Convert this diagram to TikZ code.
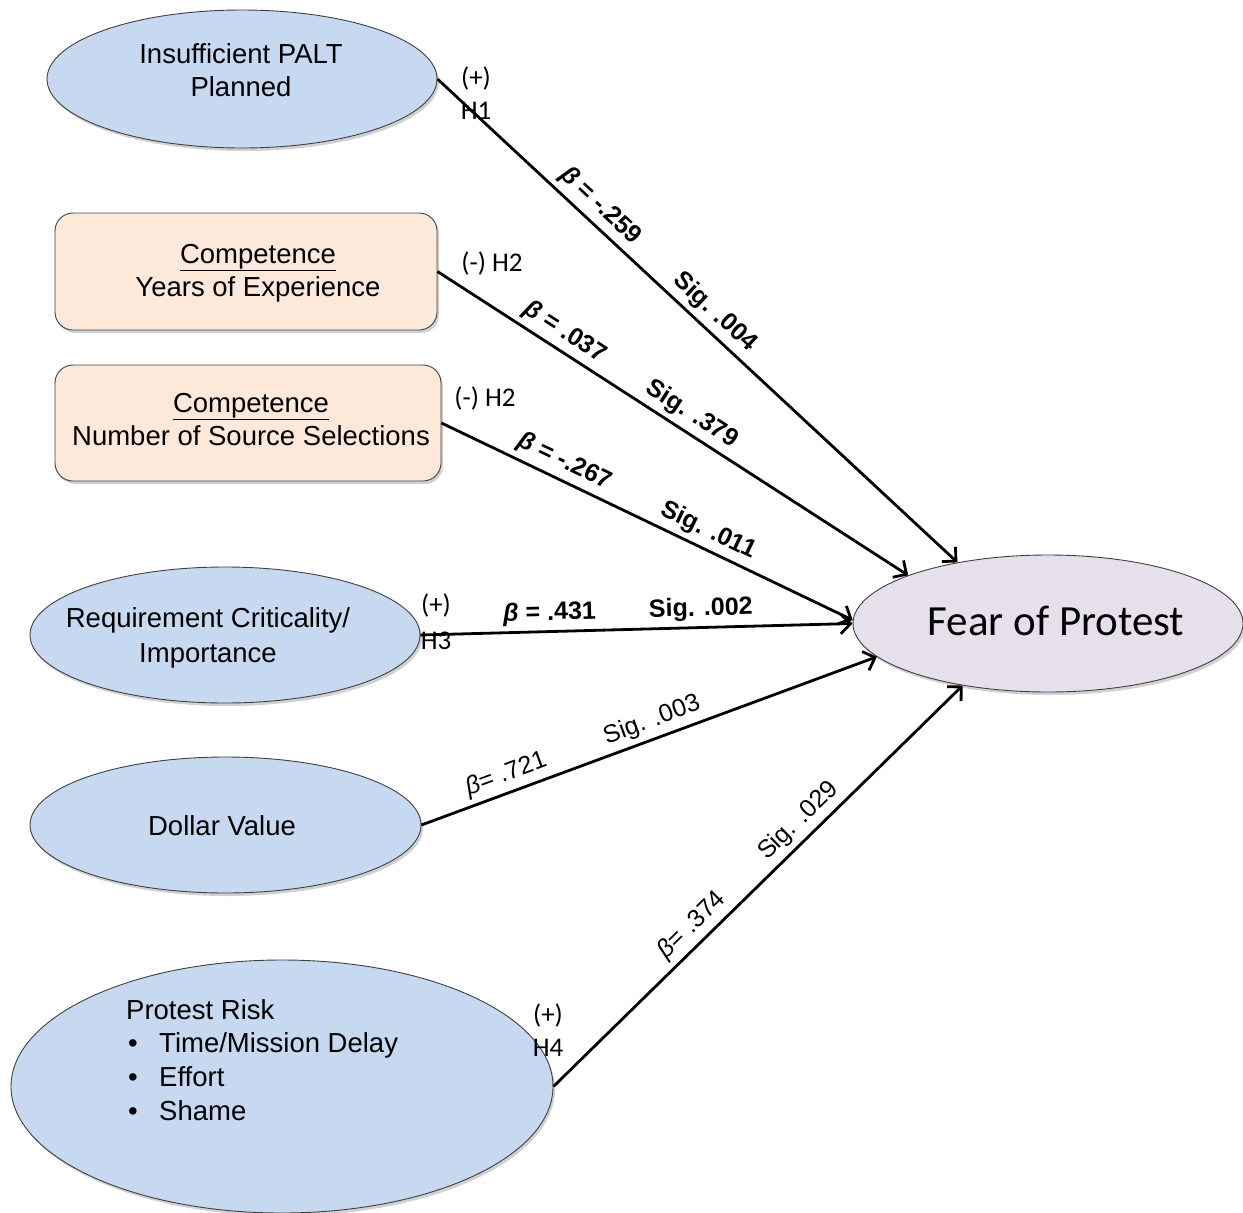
\documentclass[tikz,border=0pt]{standalone}
\usepackage{fontspec}
\setmainfont{Liberation Sans}
\newfontfamily\calib{Carlito}
\usetikzlibrary{shapes.geometric,arrows.meta,shadows,calc}
\definecolor{blu}{HTML}{C6D9F1}
\definecolor{pch}{HTML}{FDE9D9}
\definecolor{lav}{HTML}{E5E0EC}
\begin{document}
\begin{tikzpicture}[x=1pt,y=-1pt,
  shd/.style={drop shadow={shadow xshift=2pt,shadow yshift=-3pt,opacity=0.3,fill=black!60}},
  oval/.style={ellipse,draw=black!75,line width=0.9pt,fill=blu,inner sep=0pt,shd},
  rbox/.style={rectangle,rounded corners=18pt,draw=black!75,line width=0.9pt,fill=pch,inner sep=0pt,shd},
  lbl/.style={font=\fontsize{27.5}{33}\selectfont,align=center,inner sep=0pt},
  hyp/.style={font=\calib\fontsize{27}{33}\selectfont,align=center,inner sep=0pt},
  conn/.style={line width=2.8pt,-{Straight Barb[length=10pt,width=20pt,line width=2.8pt]}},
  coef/.style={font=\bfseries\fontsize{25}{28}\selectfont,sloped,above=3pt,inner sep=2pt},
  coefr/.style={font=\fontsize{25}{28}\selectfont,sloped,above=3pt,inner sep=2pt},
]
\useasboundingbox (0,0) rectangle (1243,1213);

% nodes
\node[oval,minimum width=390pt,minimum height=138pt] (ins) at (242,79) {};
\node[lbl] (insT) at (241,70) {Insufficient PALT\\Planned};

\node[rbox,minimum width=382pt,minimum height=117pt] (yrs) at (246,271.5) {};
\node[lbl] (yrsT) at (258,273) {\underline{Competence}\\Years of Experience};

\node[rbox,minimum width=386pt,minimum height=116pt] (nss) at (248,423) {};
\node[lbl] (nssT) at (251,419.5) {\underline{Competence}\\Number of Source Selections};

\node[oval,minimum width=390pt,minimum height=136pt] (req) at (225,635) {};
\node[lbl,font=\fontsize{27.5}{35}\selectfont] (reqT) at (208,638) {Requirement Criticality/\\Importance};

\node[oval,minimum width=391pt,minimum height=136pt] (dv) at (225.5,825) {};
\node[lbl] (dvT) at (222,826) {Dollar Value};

\node[oval,minimum width=542pt,minimum height=253pt] (pr) at (282,1086.5) {};
\node[lbl,align=left,anchor=north west,font=\fontsize{27.5}{33.7}\selectfont] (prT) at (126,999)
  {Protest Risk\\\makebox[33pt][l]{\hspace{2pt}•}Time/Mission Delay\\\makebox[33pt][l]{\hspace{2pt}•}Effort\\\makebox[33pt][l]{\hspace{2pt}•}Shame};

\node[ellipse,draw=black!75,line width=0.9pt,fill=lav,inner sep=0pt,shd,minimum width=390pt,minimum height=137pt] (fear) at (1048,623.5) {};
\node[font=\calib\fontsize{43}{46}\selectfont,inner sep=0pt] (fearT) at (1056,621) {Fear of Protest};

% hypothesis labels
\node[hyp] (h1) at (476,93) {(+)\\H1};
\node[hyp] (h2a) at (492,263) {(-) H2};
\node[hyp] (h2b) at (485,398) {(-) H2};
\node[hyp,font=\calib\fontsize{27}{36}\selectfont] (h3) at (436,622) {(+)\\H3};
\node[hyp] (h4) at (548,1030) {(+)\\H4};

% connectors
\draw[conn] (ins.east) -- (fear.146.6)
  node[coef,pos=.29]{\textit{β} = -.259}
  node[coef,pos=.51]{Sig. .004};
\draw[conn] (yrs.east) -- (fear.161)
  node[coef,pos=.25]{\textit{β} = .037}
  node[coef,pos=.52]{Sig. .379};
\draw[conn] (nss.east) -- (fear.179)
  node[coef,pos=.28]{\textit{β} = -.267}
  node[coef,pos=.63]{Sig. .011};
\draw[conn] (req.east) -- (fear.west)
  node[coef,pos=.30]{\textit{β} = .431}
  node[coef,pos=.65]{Sig. .002};
\draw[conn] (dv.east) -- (fear.191)
  node[coefr,pos=.20]{\textit{β}= .721}
  node[coefr,pos=.52]{Sig. .003};
\draw[conn] (pr.east) -- (fear.216)
  node[coefr,pos=.37]{\textit{β}= .374}
  node[coefr,pos=.63]{Sig. .029};
\end{tikzpicture}
\end{document}
